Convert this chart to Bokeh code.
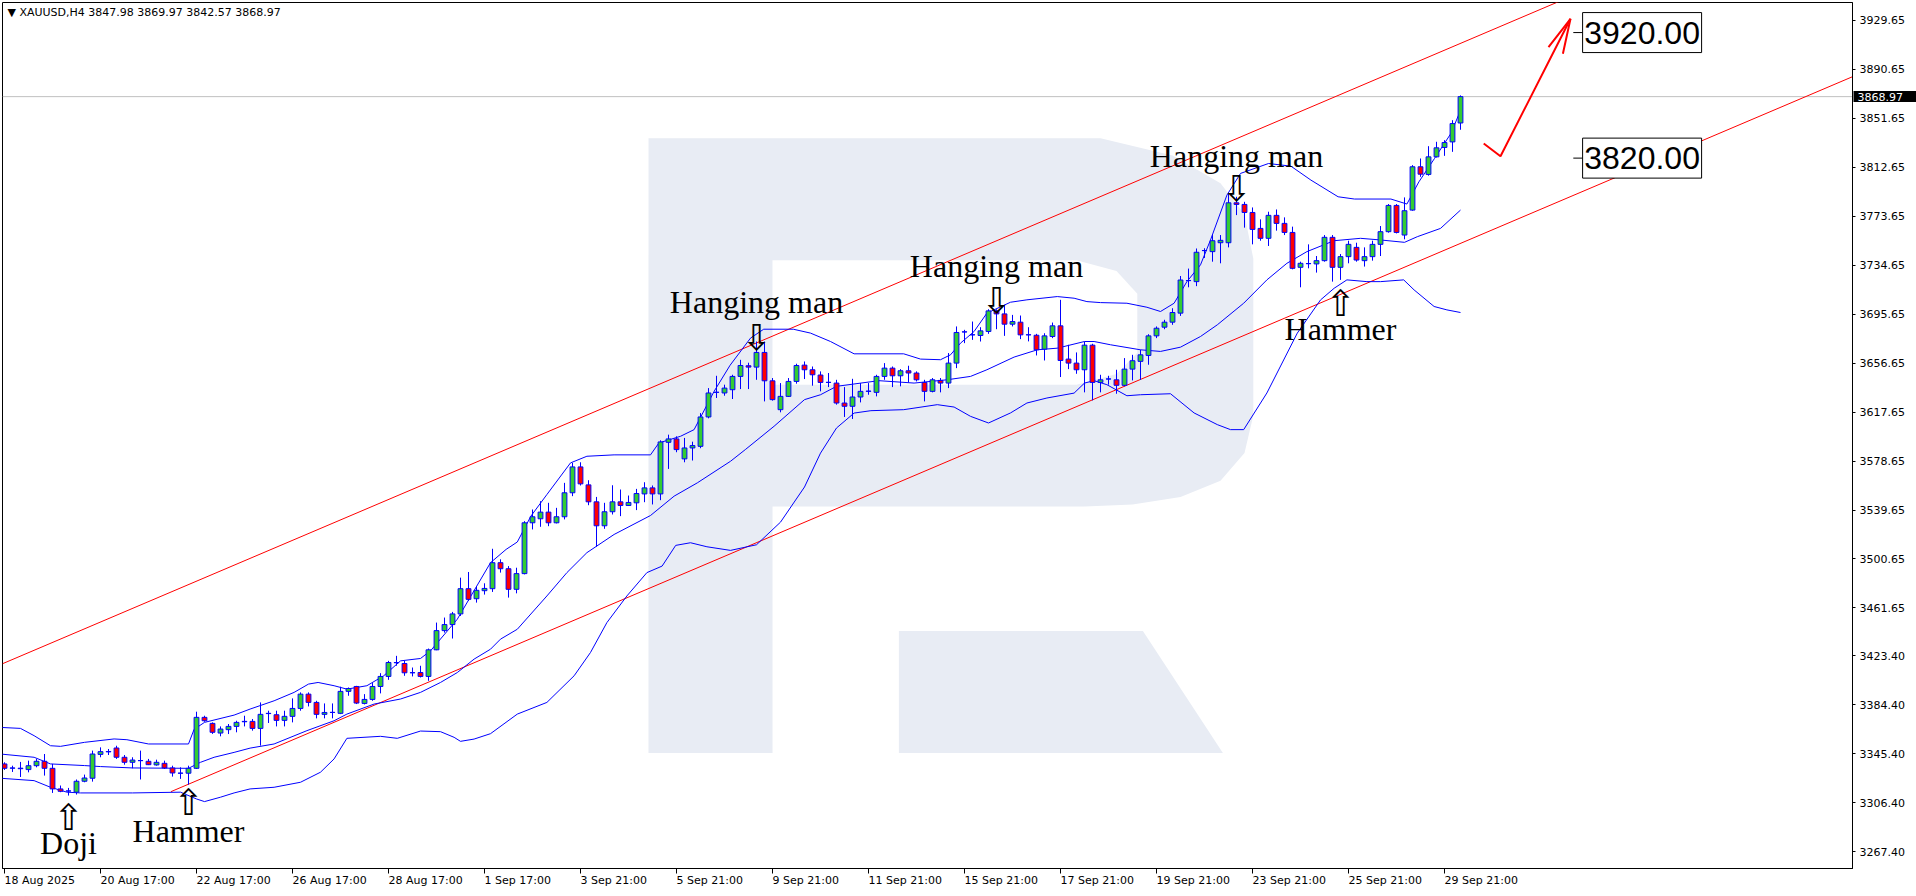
import numpy as np
from bokeh.plotting import figure
from bokeh.models import FixedTicker, PrintfTickFormatter, Range1d, Span, Label, LinearAxis
from bokeh.core.properties import value
from bokeh.embed import file_html
from bokeh.resources import INLINE

symbol = "XAUUSD,H4"

opens = [3337.4, 3334.0, 3334.0, 3332.9, 3336.0, 3339.5, 3333.9, 3317.5, 3315.9, 3314.9,
         3323.6, 3326.0, 3345.0, 3347.0, 3350.1, 3342.7, 3338.7, 3340.0, 3339.5, 3336.6,
         3337.9, 3334.2, 3330.0, 3330.0, 3333.9, 3374.5, 3369.7, 3362.0, 3364.7, 3367.3,
         3371.0, 3371.3, 3365.7, 3377.5, 3376.6, 3372.1, 3375.3, 3381.6, 3393.0, 3386.4,
         3376.9, 3378.4, 3377.7, 3395.2, 3399.1, 3385.6, 3388.8, 3399.1, 3407.1, 3418.0,
         3417.4, 3410.0, 3410.2, 3407.1, 3428.3, 3443.6, 3448.4, 3456.9, 3477.0, 3469.0,
         3475.4, 3477.0, 3497.7, 3492.9, 3476.5, 3489.0, 3529.5, 3532.7, 3538.0, 3529.5,
         3534.3, 3553.4, 3574.0, 3559.7, 3546.2, 3527.1, 3538.3, 3546.2, 3543.3, 3545.4,
         3552.5, 3557.3, 3552.5, 3593.6, 3596.3, 3580.4, 3589.1, 3590.4, 3613.8, 3633.4,
         3632.9, 3635.5, 3646.1, 3654.6, 3653.5, 3665.2, 3642.6, 3619.6, 3630.2, 3642.1,
         3655.1, 3651.4, 3647.2, 3641.3, 3640.8, 3624.9, 3622.3, 3629.7, 3634.2, 3633.4,
         3646.1, 3652.7, 3646.6, 3650.6, 3648.8, 3641.3, 3634.2, 3642.9, 3640.8, 3656.7,
         3681.6, 3679.2, 3678.7, 3681.9, 3698.3, 3695.9, 3687.7, 3689.3, 3679.2, 3678.9,
         3667.8, 3677.9, 3686.4, 3659.9, 3656.7, 3651.4, 3671.0, 3641.3, 3644.0, 3643.4,
         3639.0, 3651.9, 3658.1, 3662.8, 3678.4, 3685.3, 3689.3, 3696.5, 3722.4, 3721.6,
         3746.3, 3745.5, 3752.6, 3752.6, 3784.4, 3783.1, 3776.7, 3764.0, 3756.1, 3774.4,
         3768.0, 3760.8, 3733.0, 3735.9, 3735.7, 3738.3, 3756.9, 3733.0, 3741.5, 3748.9,
         3738.3, 3741.5, 3751.3, 3761.4, 3782.3, 3758.7, 3778.6, 3813.1, 3807.0, 3821.0,
         3828.5, 3832.9, 3847.98]

highs = [3338.7, 3336.0, 3339.0, 3340.0, 3341.4, 3345.3, 3337.4, 3320.2, 3318.3, 3325.0,
         3328.9, 3348.0, 3350.6, 3349.3, 3351.9, 3344.5, 3342.7, 3348.0, 3341.4, 3340.8,
         3340.0, 3336.0, 3334.7, 3336.0, 3379.0, 3375.8, 3370.5, 3367.3, 3369.2, 3371.8,
         3375.8, 3373.2, 3386.4, 3379.8, 3379.8, 3379.8, 3389.6, 3394.4, 3394.4, 3387.7,
         3385.6, 3385.6, 3398.9, 3398.3, 3399.6, 3393.0, 3401.8, 3409.7, 3419.5, 3423.5,
         3419.5, 3414.2, 3415.6, 3429.3, 3450.0, 3454.0, 3458.5, 3485.8, 3490.3, 3479.2,
         3481.3, 3508.8, 3500.4, 3495.0, 3493.7, 3530.8, 3540.1, 3546.7, 3545.4, 3541.4,
         3561.3, 3577.2, 3577.7, 3563.4, 3550.1, 3545.4, 3559.4, 3556.0, 3551.2, 3556.5,
         3561.8, 3559.2, 3595.2, 3599.7, 3598.4, 3597.1, 3594.1, 3616.9, 3636.8, 3646.6,
         3639.5, 3647.4, 3659.3, 3657.0, 3673.9, 3673.9, 3644.8, 3640.8, 3644.8, 3656.2,
         3658.0, 3654.0, 3650.1, 3648.8, 3643.4, 3637.6, 3644.2, 3640.8, 3640.8, 3647.4,
         3656.7, 3654.0, 3651.9, 3654.6, 3650.1, 3643.4, 3644.8, 3644.8, 3664.7, 3685.9,
         3683.2, 3689.8, 3685.3, 3699.6, 3699.6, 3703.1, 3695.1, 3694.6, 3685.3, 3680.0,
         3680.5, 3689.0, 3707.1, 3671.3, 3665.2, 3673.9, 3672.1, 3647.4, 3646.6, 3651.4,
         3660.7, 3663.3, 3667.3, 3679.7, 3685.9, 3691.2, 3700.4, 3726.1, 3732.0, 3748.0,
         3748.2, 3758.7, 3758.7, 3791.8, 3789.2, 3785.2, 3780.7, 3771.2, 3777.3, 3779.1,
         3772.8, 3765.4, 3737.5, 3751.3, 3742.0, 3758.7, 3758.7, 3743.6, 3754.2, 3752.6,
         3748.9, 3754.2, 3765.9, 3783.4, 3783.4, 3788.7, 3814.4, 3819.7, 3829.5, 3833.0,
         3834.3, 3850.2, 3869.97]

lows = [3332.6, 3331.0, 3327.0, 3330.7, 3334.7, 3328.1, 3314.3, 3314.9, 3312.2, 3313.0,
        3322.8, 3323.3, 3342.7, 3344.5, 3341.4, 3336.8, 3333.9, 3325.0, 3336.5, 3336.0,
        3333.4, 3327.3, 3325.5, 3320.9, 3333.4, 3371.0, 3361.3, 3359.4, 3361.2, 3362.6,
        3367.3, 3363.9, 3352.0, 3370.0, 3367.3, 3367.3, 3370.5, 3379.8, 3383.2, 3373.7,
        3373.7, 3373.7, 3377.1, 3391.7, 3385.1, 3384.8, 3387.7, 3393.6, 3404.4, 3415.6,
        3407.6, 3407.1, 3406.3, 3403.6, 3428.0, 3442.0, 3437.3, 3455.3, 3467.2, 3465.9,
        3472.3, 3474.4, 3489.8, 3469.9, 3473.3, 3488.4, 3524.2, 3526.3, 3526.8, 3529.0,
        3532.2, 3550.7, 3559.2, 3543.5, 3510.4, 3524.7, 3536.1, 3534.8, 3543.0, 3539.6,
        3545.9, 3544.1, 3547.5, 3572.4, 3585.7, 3577.7, 3579.1, 3588.9, 3612.7, 3628.9,
        3630.7, 3628.1, 3636.0, 3636.0, 3643.4, 3626.2, 3626.8, 3617.5, 3629.7, 3640.3,
        3644.0, 3638.7, 3634.2, 3637.6, 3623.6, 3613.8, 3612.2, 3625.4, 3631.5, 3630.2,
        3643.4, 3637.6, 3638.2, 3641.3, 3642.1, 3626.2, 3633.4, 3633.4, 3636.8, 3652.7,
        3672.6, 3675.2, 3673.9, 3680.0, 3683.7, 3678.4, 3685.9, 3675.8, 3674.0, 3662.8,
        3658.8, 3676.6, 3645.6, 3651.9, 3648.2, 3633.4, 3627.0, 3633.4, 3639.5, 3632.3,
        3638.2, 3642.9, 3643.4, 3655.4, 3676.6, 3683.7, 3687.2, 3694.3, 3717.1, 3718.0,
        3740.5, 3737.5, 3736.2, 3748.9, 3774.6, 3764.6, 3751.3, 3754.2, 3750.0, 3762.2,
        3758.7, 3731.4, 3717.1, 3732.2, 3728.8, 3737.5, 3721.6, 3723.0, 3736.2, 3737.5,
        3733.6, 3738.3, 3742.0, 3760.6, 3760.0, 3755.3, 3778.1, 3805.1, 3806.0, 3820.5,
        3821.8, 3825.0, 3842.57]

closes = [3333.9, 3334.2, 3333.6, 3336.0, 3339.5, 3333.9, 3317.5, 3315.6, 3315.8, 3323.6,
          3326.2, 3345.3, 3347.2, 3347.3, 3342.7, 3338.7, 3340.5, 3340.1, 3336.8, 3338.7,
          3334.2, 3330.2, 3330.1, 3333.9, 3374.5, 3371.8, 3362.6, 3365.2, 3367.3, 3370.5,
          3371.3, 3365.7, 3376.9, 3377.7, 3372.1, 3375.3, 3381.6, 3393.0, 3386.4, 3376.9,
          3378.4, 3378.5, 3395.2, 3397.5, 3385.9, 3388.8, 3399.1, 3407.1, 3418.2, 3418.2,
          3410.0, 3410.1, 3407.1, 3428.3, 3443.6, 3448.4, 3456.9, 3477.0, 3468.5, 3475.7,
          3477.2, 3497.7, 3492.9, 3476.5, 3489.0, 3529.5, 3534.3, 3538.0, 3529.5, 3534.3,
          3553.4, 3574.0, 3560.5, 3546.2, 3527.1, 3538.3, 3546.2, 3543.3, 3545.7, 3552.8,
          3557.3, 3552.5, 3593.9, 3596.3, 3587.8, 3589.1, 3591.0, 3613.8, 3632.9, 3633.5,
          3636.8, 3646.1, 3654.8, 3653.5, 3665.2, 3642.6, 3627.6, 3630.2, 3642.1, 3654.8,
          3651.4, 3647.4, 3641.3, 3641.4, 3624.9, 3622.3, 3629.7, 3634.2, 3634.4, 3646.1,
          3652.7, 3646.6, 3650.6, 3648.8, 3643.4, 3634.2, 3643.4, 3640.8, 3656.7, 3681.1,
          3681.5, 3679.3, 3682.4, 3698.3, 3695.9, 3687.7, 3689.8, 3679.2, 3679.3, 3667.3,
          3678.4, 3686.4, 3658.8, 3656.7, 3651.4, 3671.0, 3641.3, 3643.4, 3644.1, 3639.0,
          3651.9, 3658.6, 3663.3, 3678.4, 3684.5, 3689.3, 3697.0, 3722.9, 3722.5, 3745.0,
          3746.4, 3754.2, 3754.5, 3784.4, 3783.1, 3776.7, 3763.2, 3756.1, 3774.4, 3768.0,
          3760.8, 3732.2, 3736.2, 3736.0, 3738.3, 3756.9, 3733.0, 3741.5, 3751.3, 3738.8,
          3741.5, 3751.3, 3761.4, 3782.3, 3760.8, 3778.1, 3813.1, 3807.2, 3821.0, 3828.2,
          3832.4, 3847.5, 3868.97]

# Bollinger bands, read at sample bars
upper_x = [-0.5, 2, 3.7, 5.75, 7, 10, 13.7, 15.3, 18, 23, 23.7, 25, 28.7, 30.7, 33.7, 36.2, 38, 39.2,
           41.2, 42.8, 45.3, 47.4, 49.5, 52, 53.25, 56.6, 60.75, 62.7, 64.1, 65.8, 67.8, 70.75, 72.8,
           76.2, 80.75, 81.8, 84.5, 86.2, 88.7, 90.7, 93.25, 94.9, 98.6, 100.75, 103.25, 106.2, 112.4,
           114.5, 117, 118.25, 119.5, 121.2, 122.8, 125.75, 127.8, 131.6, 133.7, 135.3, 137, 140.3,
           142.8, 144.5, 146.2, 147.8, 149.5, 150.75, 152.8, 154.5, 158, 160.8, 163.3, 166.7, 168.75,
           173.3, 175.3, 176.8, 178.75, 180.8, 182]
upper_y = [3366.5, 3365.7, 3359.9, 3351.9, 3351.4, 3354.6, 3357.3, 3356.7, 3353.3, 3353.3, 3365.0,
           3370.5, 3376.3, 3381.1, 3387.7, 3394.4, 3401.0, 3402.3, 3399.7, 3397.0, 3399.7, 3407.6,
           3419.5, 3421.4, 3427.5, 3452.7, 3497.7, 3508.3, 3514.2, 3534.8, 3552.0, 3577.2, 3582.5,
           3583.6, 3583.6, 3593.1, 3598.4, 3603.7, 3634.2, 3655.0, 3676.6, 3683.7, 3683.7, 3680.6,
           3673.9, 3664.1, 3664.1, 3659.9, 3659.4, 3663.3, 3672.6, 3681.9, 3696.5, 3705.2, 3707.1,
           3709.7, 3708.4, 3705.7, 3704.9, 3704.4, 3701.2, 3697.8, 3704.4, 3721.6, 3735.0, 3754.8,
           3790.5, 3807.8, 3815.7, 3813.6, 3802.5, 3789.2, 3787.4, 3787.4, 3783.4, 3801.1, 3819.7,
           3839.6, 3858.0]
mid_x = [-0.5, 3.7, 5.75, 10, 12, 16, 23, 24.5, 26.2, 28.7, 30.7, 33.7, 37.8, 41.2, 42.8, 46.2, 49.5,
         52, 54.5, 56.6, 58.7, 60.75, 62, 64.1, 67.8, 70.3, 72.8, 76.2, 80.75, 83.7, 86.6, 90.75, 92.6,
         96.2, 100, 102, 104, 109.3, 113.7, 117.8, 120.75, 122.8, 126.2, 129.1, 131.6, 135, 136.2,
         138.25, 142, 144.5, 147, 149.5, 151.6, 154.9, 157.8, 160.3, 162.8, 166.2, 169.5, 172, 175,
         176.6, 179.5, 182]
mid_y = [3345.3, 3342.7, 3337.4, 3336.1, 3335.3, 3334.2, 3333.9, 3338.7, 3342.7, 3346.6, 3350.0,
         3353.3, 3363.9, 3371.8, 3377.1, 3385.1, 3389.1, 3394.4, 3402.3, 3410.2, 3420.9, 3428.8,
         3436.8, 3444.7, 3471.2, 3489.8, 3505.7, 3520.2, 3535.3, 3550.7, 3561.3, 3578.5, 3587.8,
         3606.4, 3627.6, 3631.5, 3638.2, 3642.7, 3640.8, 3643.4, 3646.1, 3651.4, 3661.5, 3667.3,
         3668.6, 3673.9, 3673.9, 3671.3, 3667.3, 3666.0, 3669.4, 3677.9, 3687.2, 3704.4, 3723.0,
         3736.2, 3745.5, 3754.2, 3756.1, 3754.8, 3752.9, 3757.4, 3764.0, 3778.6]
lower_x = [-0.5, 3.7, 5.75, 7.8, 9.5, 16, 22, 24, 25, 27, 28.7, 30.7, 33.7, 37, 39.5, 41.2, 42.8, 47,
           49.1, 52, 54.5, 56.2, 57, 58.7, 60.75, 64.1, 67.8, 71.2, 73.25, 75.3, 77.8, 80.3, 82.2,
           83.9, 85.75, 87.8, 90.75, 94, 97, 100, 102, 104, 106.2, 108.3, 112.4, 116.6, 118.7, 120.75,
           123, 125.75, 127.8, 130.3, 133.7, 135, 136.2, 137.8, 140.3, 142, 145.75, 148.7, 151.6,
           153.25, 154.9, 157.8, 161.6, 164.5, 166.2, 167.8, 170.3, 172, 174.9, 176.2, 178.7, 180.3, 182]
lower_y = [3326.0, 3324.1, 3318.8, 3314.9, 3314.3, 3314.3, 3314.9, 3309.5, 3307.4, 3310.9, 3314.3,
           3317.5, 3318.8, 3322.8, 3330.8, 3341.4, 3357.8, 3359.4, 3357.8, 3363.6, 3363.1, 3358.6,
           3355.4, 3357.2, 3361.5, 3377.1, 3386.4, 3407.6, 3426.2, 3450.0, 3471.2, 3489.8, 3495.0,
           3511.5, 3513.6, 3510.4, 3507.5, 3512.0, 3530.0, 3558.0, 3585.0, 3605.0, 3616.9, 3618.8,
           3619.6, 3623.6, 3621.7, 3614.3, 3609.0, 3617.0, 3624.9, 3628.9, 3632.8, 3640.8, 3642.7,
           3639.5, 3630.7, 3631.5, 3632.3, 3617.0, 3607.7, 3603.7, 3603.7, 3632.9, 3680.6, 3707.0,
           3716.3, 3723.0, 3721.6, 3721.6, 3723.0, 3715.0, 3701.8, 3699.1, 3697.0]

# trend channel anchor points (bar index, price)
chan_up_x = [0.0, 194.1]
chan_up_y = [3417.9, 3944.2]
chan_lo_x = [20.8, 227.0]
chan_lo_y = [3315.3, 3874.0]

# forecast arrow (bar index, price)
fc_x = [184.9, 187.0, 195.75]
fc_y = [3831.6, 3821.5, 3931.0]
fc_head_x = [193.0, 195.75, 194.8]
fc_head_y = [3908.4, 3931.0, 3903.2]

# target levels
target_levels = [3920.00, 3820.00]
target_bar = 204.7
target_tick = [196.1, 197.3]

# candlestick pattern annotations
pattern_names = ["Doji", "Hammer", "Hanging man", "Hanging man", "Hanging man", "Hammer"]
pattern_bar = [8, 23, 94, 124, 154, 167]
pattern_arrow = ["\u21e7", "\u21e7", "\u21e9", "\u21e9", "\u21e9", "\u21e7"]
pattern_arrow_y = [3294.9, 3306.8, 3677.3, 3706.7, 3795.8, 3704.3]
pattern_text_y = [3274.6, 3284.1, 3705.0, 3734.1, 3821.6, 3683.8]

# watermark logo outline (bar index, price)
wm_outer_x = [80.5, 137, 146, 152, 155, 156.1, 156.1, 155, 152, 147, 141, 135, 96, 96, 80.5]
wm_outer_y = [3835.8, 3835.8, 3822, 3800, 3775, 3740, 3615, 3585, 3563, 3550, 3544, 3542.4, 3542.4, 3346.1, 3346.1]
wm_hole_x = [96, 134, 139, 141.6, 141.6, 139, 134, 96]
wm_hole_y = [3738.6, 3738.6, 3730, 3712, 3665, 3648, 3639.5, 3639.5]
wm_leg_x = [111.8, 142.3, 152.3, 111.8]
wm_leg_y = [3443.3, 3443.3, 3346.1, 3346.1]

x_tick_idx = list(range(0, 181, 12))
x_tick_labels = ["18 Aug 2025", "20 Aug 17:00", "22 Aug 17:00", "26 Aug 17:00", "28 Aug 17:00",
                 "1 Sep 17:00", "3 Sep 21:00", "5 Sep 21:00", "9 Sep 21:00", "11 Sep 21:00",
                 "15 Sep 21:00", "17 Sep 21:00", "19 Sep 21:00", "23 Sep 21:00", "25 Sep 21:00",
                 "29 Sep 21:00"]
y_ticks = [3929.65, 3890.65, 3851.65, 3812.65, 3773.65, 3734.65, 3695.65, 3656.65, 3617.65,
           3578.65, 3539.65, 3500.65, 3461.65, 3423.40, 3384.40, 3345.40, 3306.40, 3267.40]

BLUE = "#0000ff"
GREEN = "#33cc33"
RED = "#ff0000"
WM = "#e8ecf4"

o = np.array(opens); h = np.array(highs); l = np.array(lows); c = np.array(closes)
idx = np.arange(len(o))
up = c >= o

X0, X1 = -0.25, 231.0
p = figure(width=1916, height=896, output_backend="svg", toolbar_location=None,
           x_range=Range1d(X0, X1), y_range=Range1d(3254.1, 3943.96),
           y_axis_location="right", min_border_left=2, min_border_top=2,
           min_border_right=64, min_border_bottom=26,
           background_fill_color="white", border_fill_color="white")
p.outline_line_color = "black"
p.outline_line_width = 1
p.grid.visible = False

# watermark
p.patch(wm_outer_x, wm_outer_y, fill_color=WM, line_color=None)
p.patch(wm_hole_x, wm_hole_y, fill_color="white", line_color=None)
p.patch(wm_leg_x, wm_leg_y, fill_color=WM, line_color=None)

# current price line
p.add_layout(Span(location=closes[-1], dimension="width", line_color="#c0c0c0", line_width=1, level="underlay"))

# channel lines
g_up = (chan_up_y[1] - chan_up_y[0]) / (chan_up_x[1] - chan_up_x[0])
p.line([X0, X1], [chan_up_y[0] + g_up * (X0 - chan_up_x[0]), chan_up_y[0] + g_up * (X1 - chan_up_x[0])],
       line_color=RED, line_width=1)
g_lo = (chan_lo_y[1] - chan_lo_y[0]) / (chan_lo_x[1] - chan_lo_x[0])
p.line([chan_lo_x[0], X1], [chan_lo_y[0], chan_lo_y[0] + g_lo * (X1 - chan_lo_x[0])],
       line_color=RED, line_width=1)

# bollinger bands
for bx, by in [(upper_x, upper_y), (mid_x, mid_y), (lower_x, lower_y)]:
    p.line(bx, by, line_color=BLUE, line_width=1)

# candles
p.segment(x0=idx, y0=l, x1=idx, y1=h, line_color=BLUE, line_width=1)
p.vbar(x=idx, width=0.6, top=np.maximum(o, c), bottom=np.minimum(o, c),
       fill_color=[GREEN if u else RED for u in up], line_color=BLUE, line_width=1)

# forecast arrow
p.line(fc_x, fc_y, line_color=RED, line_width=2)
p.line(fc_head_x, fc_head_y, line_color=RED, line_width=2)

# target level boxes
p.segment(x0=[target_tick[0]] * 2, x1=[target_tick[1]] * 2, y0=target_levels, y1=target_levels,
          line_color="black", line_width=1)
p.rect(x=[target_bar] * 2, y=target_levels, width=119, height=40, width_units="screen",
       height_units="screen", fill_color="white", line_color="black", line_width=1)
p.text(x=[target_bar] * 2, y=target_levels, text=[f"{v:.2f}" for v in target_levels],
       text_font=value("Liberation Sans"), text_font_size="32px", text_align="center",
       text_baseline="middle", text_color="black")

# pattern annotations
p.text(x=pattern_bar, y=pattern_text_y, text=pattern_names, text_font=value("Liberation Serif"),
       text_font_size="32px", text_align="center", text_baseline="alphabetic", text_color="black")
p.text(x=pattern_bar, y=pattern_arrow_y, text=pattern_arrow, text_font=value("DejaVu Sans"),
       text_font_size="36px", text_align="center", text_baseline="middle", text_color="black")

# title inside plot
title = f"\u25bc {symbol}  {opens[-1]:.2f} {highs[-1]:.2f} {lows[-1]:.2f} {closes[-1]:.2f}"
p.add_layout(Label(x=0.375, y=3936.0, text=title, text_font="DejaVu Sans", text_font_size="11px",
                   text_baseline="middle", text_color="black"))

# axes
xa = p.xaxis[0]
xa.ticker = FixedTicker(ticks=x_tick_idx)
xa.major_label_overrides = dict(zip(x_tick_idx, x_tick_labels))
xa.major_label_orientation = -0.0001
xa.major_tick_in = 0
xa.major_tick_out = 5
xa.major_label_standoff = 7
ya = p.yaxis[0]
ya.ticker = FixedTicker(ticks=y_ticks)
ya.formatter = PrintfTickFormatter(format="%.2f")
ya.major_tick_in = 0
ya.major_tick_out = 3
ya.major_label_standoff = 4
for ax in (xa, ya):
    ax.axis_line_color = "black"
    ax.major_tick_line_color = "black"
    ax.minor_tick_line_color = None
    ax.major_label_text_font = "DejaVu Sans"
    ax.major_label_text_font_size = "11px"
    ax.major_label_text_color = "black"

# current price tag on the price scale (black tick bar with white label)
tag_axis = LinearAxis(ticker=FixedTicker(ticks=[closes[-1]]),
                      formatter=PrintfTickFormatter(format="%.2f"),
                      axis_line_color=None, minor_tick_line_color=None,
                      major_tick_line_color="black", major_tick_line_width=11,
                      major_tick_in=54, major_tick_out=12, major_label_standoff=-62,
                      major_label_text_color="white", major_label_text_font="DejaVu Sans",
                      major_label_text_font_size="11px")
p.add_layout(tag_axis, "right")

open("out.html", "w").write(file_html(p, INLINE))
